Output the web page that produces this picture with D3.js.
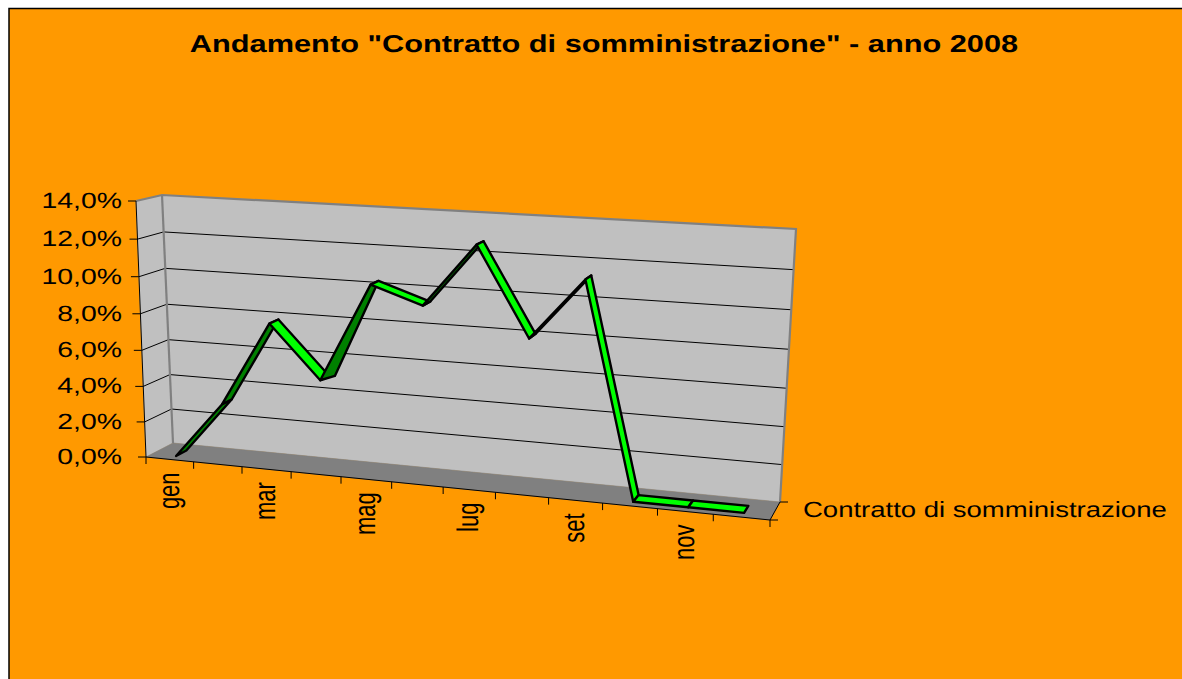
<!DOCTYPE html>
<html><head><meta charset="utf-8">
<script src="https://cdnjs.cloudflare.com/ajax/libs/d3/7.8.5/d3.min.js"></script>
<style>html,body{margin:0;padding:0;background:#fff}svg{display:block}text{font-family:"Liberation Sans",Arial,sans-serif;fill:#000;text-rendering:geometricPrecision}</style>
</head><body><svg id="c" width="1182" height="679"></svg>
<script>
const months=["gen","feb","mar","apr","mag","giu","lug","ago","set","ott","nov","dic"];
const values=[0.0,3.2,7.85,5.0,10.3,9.4,12.7,8.1,11.3,0.0,0.0,0.0];
const yTicks=[0,2,4,6,8,10,12,14];
const yTickLabels=["0,0%","2,0%","4,0%","6,0%","8,0%","10,0%","12,0%","14,0%"];
const seriesName="Contratto di somministrazione";
const title='Andamento "Contratto di somministrazione" - anno 2008';

const svg=d3.select("#c");
const W=1182,H=679;
svg.append("rect").attr("x",9).attr("y",8.5).attr("width",W).attr("height",H).attr("fill","#ff9900").attr("stroke","#000").attr("stroke-width",1.5);

// 3D box projected on screen: corners [x,y]
const C={fbl:[146,457],fbr:[770,520],ftl:[136,201],ftr:[786,239],
         bbl:[173,443],bbr:[780,502],btl:[162,195],btr:[796,229]};
const warpK=1.1,warpV=1.05;
const xScale=d3.scaleLinear().domain([0,months.length]).range([0,1]);
const yScale=d3.scaleLinear().domain([0,14]).range([0,1]);
const zScale=d3.scaleLinear().domain([0,1]).range([0,1]);
const mix=(a,b,t)=>[a[0]+(b[0]-a[0])*t,a[1]+(b[1]-a[1])*t];
function P(cat,val,dep){
  const t0=xScale(cat),t=t0/(t0+warpK*(1-t0)),v0=yScale(val),v=v0/(v0+warpV*(1-v0)),z=zScale(dep);
  const fb=mix(C.fbl,C.fbr,t),ft=mix(C.ftl,C.ftr,t),bb=mix(C.bbl,C.bbr,t),bt=mix(C.btl,C.btr,t);
  return mix(mix(fb,ft,v),mix(bb,bt,v),z);
}
const line=d3.line();
const N=months.length;
// walls
const g=svg.append("g");
g.append("path").attr("d",line([P(0,0,0),P(0,0,1),P(0,14,1),P(0,14,0)])+"Z").attr("fill","#c0c0c0").attr("stroke","#c0c0c0").attr("stroke-width",.5);
g.append("path").attr("d",line([P(0,0,1),P(N,0,1),P(N,14,1),P(0,14,1)])+"Z").attr("fill","#c0c0c0").attr("stroke","#c0c0c0").attr("stroke-width",.5);
g.append("path").attr("d",line([P(0,0,0),P(N,0,0),P(N,0,1),P(0,0,1)])+"Z").attr("fill","#808080").attr("stroke","#808080").attr("stroke-width",.6);
// gridlines
yTicks.slice(1,-1).forEach(v=>{
  g.append("path").attr("d",line([P(0,v,0),P(0,v,1),P(N,v,1)])).attr("fill","none").attr("stroke","#000").attr("stroke-width",1);
});
// wall edges
g.append("path").attr("d",line([P(0,0,1),P(0,14,1)])).attr("stroke","#808080").attr("stroke-width",2.2).attr("fill","none");
g.append("path").attr("d",line([P(0,14,0),P(0,14,1),P(N,14,1),P(N,0,1)])).attr("stroke","#808080").attr("stroke-width",2.2).attr("fill","none");
// axes
const ax=svg.append("g").attr("fill","none").attr("stroke","#000").attr("stroke-width",1);
ax.append("path").attr("d",line([P(0,14,0),P(0,0,0),P(N,0,0),P(N,0,1)]));
yTicks.forEach(v=>{const p=P(0,v,0);ax.append("path").attr("d",line([p,[p[0]-8,p[1]]]));});
d3.range(0,N+1).forEach(i=>{const p=P(i,0,0);ax.append("path").attr("d",line([p,[p[0],p[1]+7]]));});
[0,1].forEach(z=>{const p=P(N,0,z);ax.append("path").attr("d",line([p,[p[0]+8,p[1]]]));});

// ribbon
const z0=0.24,z1=0.63,valleyShift=0.12,steepRise=4;
const rib=svg.append("g").attr("stroke","#000").attr("stroke-width",2.4).attr("stroke-linejoin","round");
d3.range(0,N-1).forEach(i=>{
  const a=values[i],b=values[i+1];
  const isValley=b-a>steepRise&&i>0&&values[i-1]>a;
  const q=[P(i+.5,a,z0),P(i+1.5,b,z0),P(i+1.5,b,z1),P(i+.5+(isValley?valleyShift:0),a,z1)];
  rib.append("path").attr("d",line(q)+"Z").attr("fill",b>a?"#008000":"#00ff00");
});

// text
function label(x,y,s,size,sx,opts={}){
  const t=svg.append("text").attr("font-size",size).attr("transform",`translate(${x},${y}) scale(${sx},1)`+(opts.rot?` rotate(${opts.rot})`:"")).attr("text-anchor",opts.anchor||"start").text(s);
  if(opts.bold)t.attr("font-weight","bold");
  return t;
}
label(604,52,title,24.4,1.26,{bold:true,anchor:"middle"});
yTicks.forEach((v,i)=>{const p=P(0,v,0);label(122,p[1]+7,yTickLabels[i],22,1.29,{anchor:"end"});});
months.forEach((m,i)=>{ if(i%2==0){const p=P(i+.5,0,0);label(p[0]+9,p[1]+13,m,22,1.36,{anchor:"end",rot:-90});}});
label(803,517,seriesName,22,1.25);
</script></body></html>
